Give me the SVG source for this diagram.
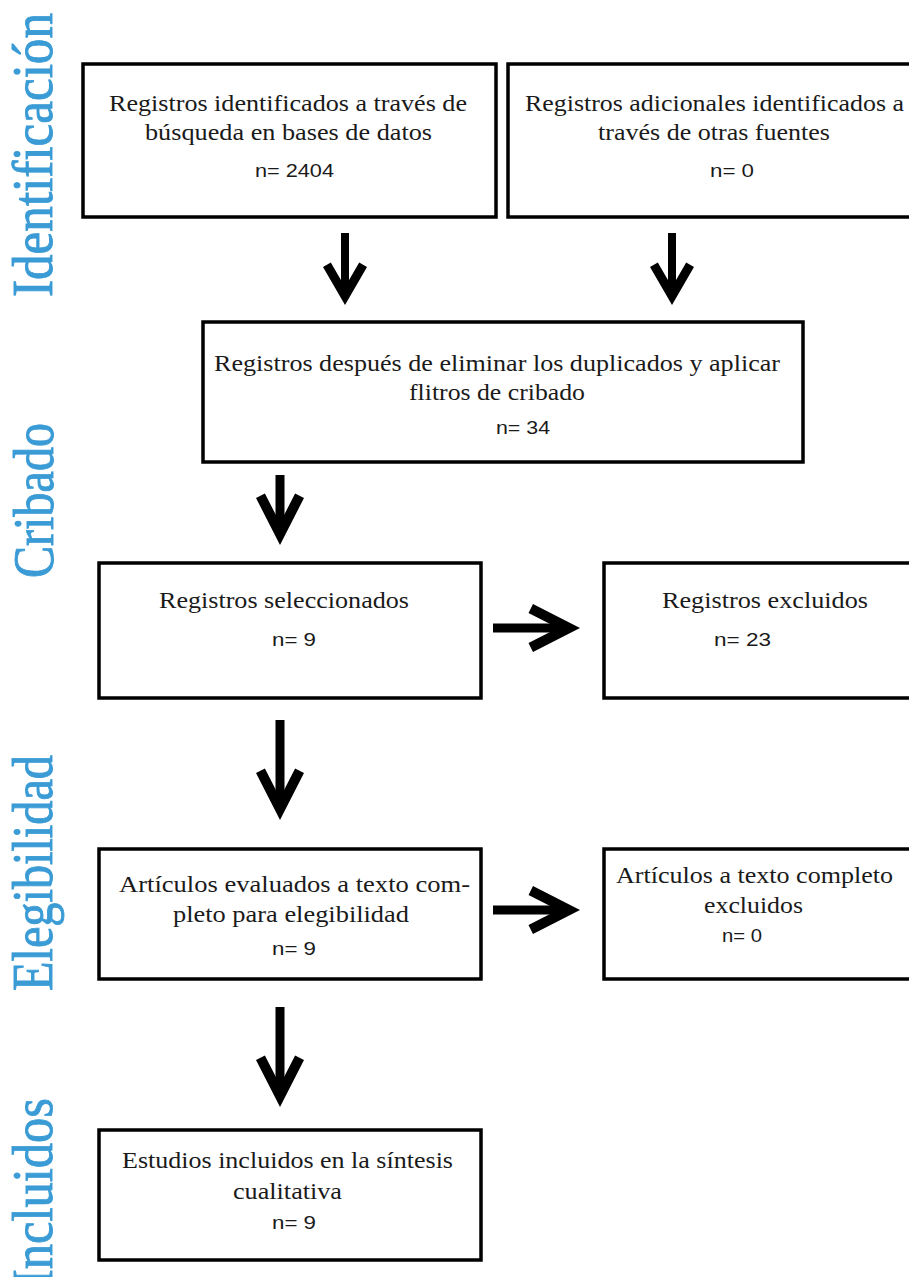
<svg xmlns="http://www.w3.org/2000/svg" width="909" height="1277" viewBox="0 0 909 1277">
<style>
.box{fill:#fff;stroke:#000;stroke-width:3.5}
.t{font-family:"Liberation Serif","Times New Roman",Times,serif;font-size:23px;fill:#1a1a1a;text-anchor:middle}
.n{font-family:"Liberation Sans",Arial,sans-serif;font-size:18px;fill:#1a1a1a;text-anchor:middle}
.side{font-family:"Liberation Serif","Times New Roman",Times,serif;font-size:56px;fill:#3a9bd5;stroke:#3a9bd5;stroke-width:0.9}
.c{stroke:#000;fill:none}
</style>
<defs>
<marker id="hs" viewBox="-46 -24 48 48" markerUnits="userSpaceOnUse" markerWidth="48" markerHeight="48" refX="-14" refY="0" orient="auto" overflow="visible">
<path d="M0,0 L-38,-22 L-42.5,-14.2 L-18,0 L-42.5,14.2 L-38,22 Z" fill="#000"/>
</marker>
<marker id="hb" viewBox="-55 -26 57 52" markerUnits="userSpaceOnUse" markerWidth="57" markerHeight="52" refX="-18" refY="0" orient="auto" overflow="visible">
<path d="M0,0 L-47,-24 L-51.5,-15.1 L-22,0 L-51.5,15.1 L-47,24 Z" fill="#000"/>
</marker>
</defs>
<rect width="909" height="1277" fill="#fff"/>

<g id="labels">
<text class="side" transform="translate(52,297) rotate(-90)" textLength="284" lengthAdjust="spacingAndGlyphs">Identificación</text>
<text class="side" transform="translate(53,578) rotate(-90)" textLength="155" lengthAdjust="spacingAndGlyphs">Cribado</text>
<text class="side" transform="translate(52,991) rotate(-90)" textLength="236" lengthAdjust="spacingAndGlyphs">Elegibilidad</text>
<text class="side" transform="translate(52,1286) rotate(-90)" textLength="188" lengthAdjust="spacingAndGlyphs">Incluidos</text>
</g>

<g id="connectors">
<line class="c" x1="345" y1="233" x2="345" y2="291" stroke-width="8" marker-end="url(#hs)"/>
<line class="c" x1="672" y1="233" x2="672" y2="291" stroke-width="8" marker-end="url(#hs)"/>
<line class="c" x1="280" y1="475" x2="280" y2="527" stroke-width="9" marker-end="url(#hb)"/>
<line class="c" x1="493" y1="628" x2="562" y2="628" stroke-width="9" marker-end="url(#hb)"/>
<line class="c" x1="280" y1="720" x2="280" y2="802" stroke-width="9" marker-end="url(#hb)"/>
<line class="c" x1="493" y1="910" x2="562" y2="910" stroke-width="9" marker-end="url(#hb)"/>
<line class="c" x1="280" y1="1007" x2="280" y2="1089" stroke-width="9" marker-end="url(#hb)"/>
</g>

<g id="node-db">
<rect class="box" x="83" y="64" width="413" height="153"/>
<text class="t" x="288" y="111" textLength="358" lengthAdjust="spacingAndGlyphs">Registros identificados a través de</text>
<text class="t" x="288.5" y="140" textLength="287" lengthAdjust="spacingAndGlyphs">búsqueda en bases de datos</text>
<text class="n" x="294.5" y="177" textLength="79" lengthAdjust="spacingAndGlyphs">n= 2404</text>
</g>

<g id="node-other">
<rect class="box" x="508" y="64" width="410" height="153"/>
<text class="t" x="714.5" y="111" textLength="379" lengthAdjust="spacingAndGlyphs">Registros adicionales identificados a</text>
<text class="t" x="714" y="140" textLength="232" lengthAdjust="spacingAndGlyphs">través de otras fuentes</text>
<text class="n" x="732" y="177" textLength="44" lengthAdjust="spacingAndGlyphs">n= 0</text>
</g>

<g id="node-dedup">
<rect class="box" x="203" y="322" width="600" height="140"/>
<text class="t" x="497" y="371" textLength="566" lengthAdjust="spacingAndGlyphs">Registros después de eliminar los duplicados y aplicar</text>
<text class="t" x="497" y="400" textLength="176" lengthAdjust="spacingAndGlyphs">flitros de cribado</text>
<text class="n" x="523" y="434" textLength="54" lengthAdjust="spacingAndGlyphs">n= 34</text>
</g>

<g id="node-selected">
<rect class="box" x="99" y="563" width="382" height="135"/>
<text class="t" x="284" y="608" textLength="250" lengthAdjust="spacingAndGlyphs">Registros seleccionados</text>
<text class="n" x="294" y="646" textLength="44" lengthAdjust="spacingAndGlyphs">n= 9</text>
</g>

<g id="node-excluded">
<rect class="box" x="604" y="563" width="314" height="135"/>
<text class="t" x="765" y="608" textLength="206" lengthAdjust="spacingAndGlyphs">Registros excluidos</text>
<text class="n" x="742.5" y="646" textLength="57" lengthAdjust="spacingAndGlyphs">n= 23</text>
</g>

<g id="node-fulltext">
<rect class="box" x="99" y="849" width="382" height="130"/>
<text class="t" x="294.5" y="892" textLength="351" lengthAdjust="spacingAndGlyphs">Artículos evaluados a texto com-</text>
<text class="t" x="291" y="922" textLength="236" lengthAdjust="spacingAndGlyphs">pleto para elegibilidad</text>
<text class="n" x="294" y="955" textLength="44" lengthAdjust="spacingAndGlyphs">n= 9</text>
</g>

<g id="node-fulltext-excluded">
<rect class="box" x="604" y="849" width="314" height="130"/>
<text class="t" x="754.5" y="883" textLength="277" lengthAdjust="spacingAndGlyphs">Artículos a texto completo</text>
<text class="t" x="753.5" y="913" textLength="99" lengthAdjust="spacingAndGlyphs">excluidos</text>
<text class="n" x="742" y="942" textLength="40" lengthAdjust="spacingAndGlyphs">n= 0</text>
</g>

<g id="node-included">
<rect class="box" x="99" y="1130" width="382" height="130"/>
<text class="t" x="287.5" y="1168" textLength="331" lengthAdjust="spacingAndGlyphs">Estudios incluidos en la síntesis</text>
<text class="t" x="287.5" y="1199" textLength="109" lengthAdjust="spacingAndGlyphs">cualitativa</text>
<text class="n" x="294" y="1229" textLength="44" lengthAdjust="spacingAndGlyphs">n= 9</text>
</g>
</svg>
